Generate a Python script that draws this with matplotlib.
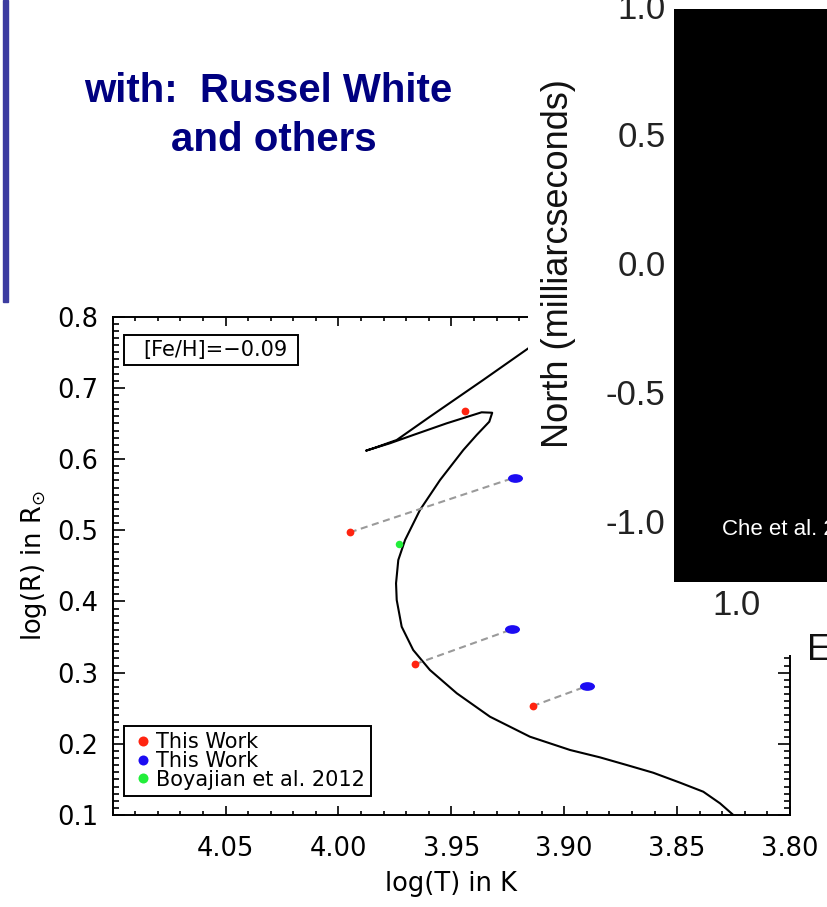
import numpy as np
import matplotlib
matplotlib.use("Agg")
import matplotlib.pyplot as plt
from matplotlib.path import Path
from matplotlib.transforms import Affine2D
from matplotlib.lines import Line2D
from matplotlib.patches import Rectangle
from matplotlib.ticker import FixedLocator, MultipleLocator, FormatStrFormatter

plt.rcParams['axes.unicode_minus'] = False

# ---- isochrone track: log T (K) vs log R (Rsun) ----
iso_logt = [3.8251, 3.8310, 3.8384, 3.8487, 3.8606, 3.8723, 3.8842, 3.8974,
            3.9152, 3.9329, 3.9476, 3.9595, 3.9669, 3.9720, 3.9742, 3.9745,
            3.9735, 3.9705, 3.9639, 3.9550, 3.9447, 3.9388, 3.9332, 3.9319,
            3.9366, 3.9521, 3.9669, 3.9772, 3.9878, 3.9846, 3.9742, 3.9595,
            3.9359, 3.9159, 3.9050]
iso_logr = [0.100, 0.1164, 0.1327, 0.1454, 0.1594, 0.1702, 0.1810, 0.1913,
            0.2100, 0.2381, 0.2710, 0.3037, 0.3318, 0.3645, 0.4020, 0.4255,
            0.4582, 0.4863, 0.5285, 0.5706, 0.6127, 0.6338, 0.6525, 0.6651,
            0.6657, 0.6502, 0.6338, 0.6222, 0.6118, 0.6151, 0.6268, 0.6595,
            0.7111, 0.7556, 0.7800]

# ---- stellar measurements ----
red_logt = [3.944, 3.995, 3.966, 3.914]
red_logr = [0.668, 0.497, 0.312, 0.253]
blue_logt = [3.922, 3.923, 3.890]
blue_logr = [0.574, 0.361, 0.281]
green_logt = [3.973]
green_logr = [0.481]
# red star index paired with each blue star
pair_red_index = [1, 2, 3]

x_ticks = [4.05, 4.00, 3.95, 3.90, 3.85, 3.80]
y_ticks = [0.1, 0.2, 0.3, 0.4, 0.5, 0.6, 0.7, 0.8]
legend_labels = ["This Work", "This Work", "Boyajian et al. 2012"]
feh_label = "[Fe/H]=\u22120.09"

# ---- astrometry panel ----
north_ticks = [1.0, 0.5, 0.0, -0.5, -1.0]
east_ticks = [1.0]

RED, BLUE, GREEN = "#ff2410", "#1c0cf2", "#22ee3a"

W, H = 827, 907
fig = plt.figure(figsize=(W / 100, H / 100), dpi=100)


def fx(px):
    return px / W


def fy(py):
    return 1 - py / H


# slide decorations
fig.patches.append(Rectangle((fx(2.8), fy(302)), 4.8 / W, 302 / H,
                             transform=fig.transFigure, color="#3c3ca0",
                             zorder=0))
fig.text(fx(268.5), fy(101.6), "with:  Russel White", ha="center",
         va="baseline", fontsize=29, fontweight="bold", color="#000080",
         family="Liberation Sans")
fig.text(fx(273.7), fy(150.8), "and others", ha="center", va="baseline",
         fontsize=29, fontweight="bold", color="#000080",
         family="Liberation Sans")

# ---- HR diagram ----
ax = fig.add_axes([fx(112.7), fy(815), (790 - 112.7) / W, (815 - 316.7) / H])
ax.plot(iso_logt, iso_logr, color="black", lw=1.5, zorder=2)
for bi, ri in enumerate(pair_red_index):
    ax.plot([red_logt[ri], blue_logt[bi]], [red_logr[ri], blue_logr[bi]],
            color="#9a9a9a", lw=1.5, ls=(0, (3.4, 2.2)), zorder=3)

ellipse = Path.unit_circle().transformed(Affine2D().scale(1.0, 0.58))
ax.plot(blue_logt, blue_logr, ls="none", marker=ellipse, ms=10.8,
        color=BLUE, mec="none", zorder=4)
ax.plot(red_logt, red_logr, ls="none", marker="o", ms=5.6, color=RED,
        mec="none", zorder=5)
ax.plot(green_logt, green_logr, ls="none", marker="o", ms=5.4, color=GREEN,
        mec="none", zorder=5)

ax.set_xlim(4.10, 3.80)
ax.set_ylim(0.10, 0.80)
ax.xaxis.set_major_locator(FixedLocator(x_ticks))
ax.xaxis.set_minor_locator(MultipleLocator(0.01))
ax.yaxis.set_major_locator(FixedLocator(y_ticks))
ax.yaxis.set_minor_locator(MultipleLocator(0.01))
ax.xaxis.set_major_formatter(FormatStrFormatter("%.2f"))
ax.yaxis.set_major_formatter(FormatStrFormatter("%.1f"))
ax.tick_params(which="both", direction="in", top=True, right=True,
               width=1.2, labelsize=18.5)
ax.tick_params(axis="x", which="major", length=6.5, pad=15)
ax.tick_params(axis="x", which="minor", length=3.0)
ax.tick_params(axis="y", which="major", length=8.8, pad=10.4)
ax.tick_params(axis="y", which="minor", length=4.0)
for sp in ax.spines.values():
    sp.set_linewidth(1.4)
ax.set_xlabel("log(T) in K", fontsize=18.5, labelpad=6.5)
ax.set_ylabel(r"log(R) in R$_{\odot}$", fontsize=18.5, labelpad=6)

# metallicity tag
ax.add_patch(Rectangle(((124 - 112.7) / 677.3, (815 - 365) / 498.3),
                       (298 - 124) / 677.3, 30 / 498.3,
                       transform=ax.transAxes, fill=False, lw=1.4,
                       ec="black", zorder=6))
ax.text((143 - 112.7) / 677.3, (815 - 350) / 498.3, feh_label,
        transform=ax.transAxes, fontsize=15, va="center", ha="left",
        zorder=6)

handles = [Line2D([], [], ls="none", marker="o", ms=7.2, color=c, mec="none")
           for c in (RED, BLUE, GREEN)]
leg = ax.legend(handles, legend_labels, loc="lower left",
                bbox_to_anchor=((124 - 112.7) / 677.3, (815 - 796) / 498.3),
                borderaxespad=0, fontsize=15, handlelength=1.25,
                handletextpad=0.0, labelspacing=-0.05, borderpad=0.3,
                frameon=True, fancybox=False, framealpha=1,
                edgecolor="black")
leg.get_frame().set_linewidth(1.4)

# ---- astrometry panel laid over the right side ----
cover = fig.add_axes([fx(528), fy(655), (W - 528) / W, 655 / H])
cover.set_facecolor("white")
cover.set_xticks([])
cover.set_yticks([])
for sp in cover.spines.values():
    sp.set_visible(False)

sky = fig.add_axes([fx(674), fy(581.7), (W - 674) / W, 581.7 / H])
sky.set_facecolor("white")
x_left, x_right = 1.2436, 0.6492
y_bottom, y_top = -1.2374, 1.0225
sky.imshow(np.zeros((60, 20)), cmap="gray", vmin=0, vmax=1, aspect="auto",
           extent=[x_left, x_right, y_bottom, 0.9864], interpolation="nearest")
sky.set_xlim(x_left, x_right)
sky.set_ylim(y_bottom, y_top)
sky.yaxis.set_major_locator(FixedLocator(north_ticks))
sky.xaxis.set_major_locator(FixedLocator(east_ticks))
sky.yaxis.set_major_formatter(FormatStrFormatter("%.1f"))
sky.xaxis.set_major_formatter(FormatStrFormatter("%.1f"))
sky.tick_params(length=0, labelsize=25, labelcolor="#222222")
sky.tick_params(axis="y", pad=6)
sky.tick_params(axis="x", pad=5)
for lab in sky.get_xticklabels() + sky.get_yticklabels():
    lab.set_family("Liberation Sans")
for sp in sky.spines.values():
    sp.set_visible(False)
sky.text((721.7 - 674) / (W - 674), (581.7 - 535) / 581.7, "Che et al. 2013",
         transform=sky.transAxes, color="white", fontsize=16, ha="left",
         va="baseline", family="Liberation Sans", clip_on=True)

fig.text(fx(559), fy(263.5), "North (milliarcseconds)", rotation=90,
         ha="center", va="center", fontsize=26, color="#111111",
         family="Liberation Sans")
fig.text(fx(807), fy(660), "East (milliarcseconds)", ha="left",
         va="baseline", fontsize=26, color="#111111",
         family="Liberation Sans")

fig.savefig("out.png", dpi=100)
